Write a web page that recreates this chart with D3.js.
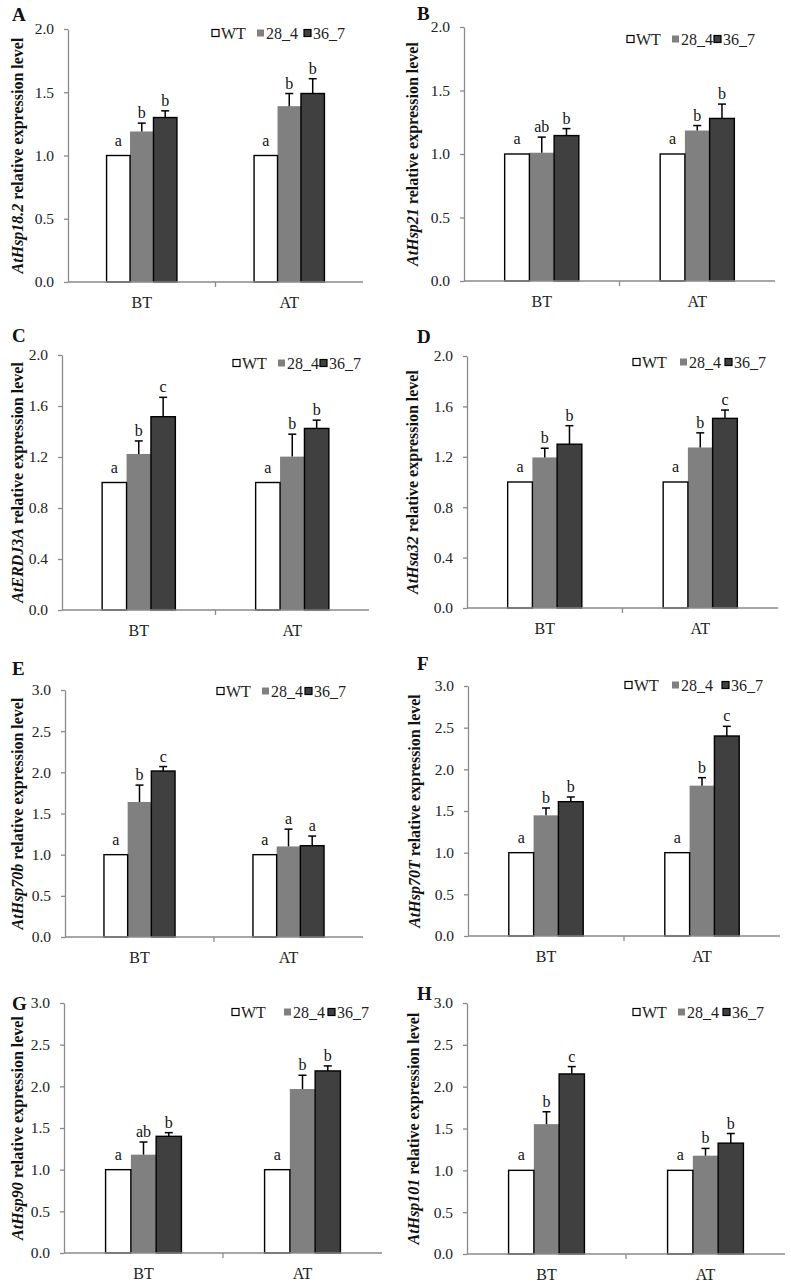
<!DOCTYPE html>
<html><head><meta charset="utf-8">
<script src="https://cdn.jsdelivr.net/npm/d3@7"></script>
<style>body{margin:0;background:#fff} svg{display:block}</style>
</head><body><svg id="c" width="791" height="1285"></svg>
<script>
// ---------- DATA ----------
const panelLetters = ["A","B","C","D","E","F","G","H"];
const genes = ["AtHsp18.2","AtHsp21","AtERDJ3A","AtHsa32","AtHsp70b","AtHsp70T","AtHsp90","AtHsp101"];
const categories = ["BT","AT"];
const seriesNames = ["WT","28_4","36_7"];
const yMax  = [2.0, 2.0, 2.0, 2.0, 3.0, 3.0, 3.0, 3.0];
const yStep = [0.5, 0.5, 0.4, 0.4, 0.5, 0.5, 0.5, 0.5];
// means per panel: [BT, AT]
const meanWT  = [[1,1],[1,1],[1,1],[1,1],[1,1],[1,1],[1,1],[1,1]];
const mean284 = [[1.19,1.39],[1.01,1.185],[1.224,1.203],[1.195,1.274],[1.64,1.10],[1.448,1.804],[1.18,1.968],[1.552,1.175]];
const mean367 = [[1.30,1.49],[1.145,1.28],[1.516,1.424],[1.30,1.505],[2.016,1.109],[1.612,2.40],[1.40,2.185],[2.152,1.325]];
const errWT   = [[0,0],[0,0],[0,0],[0,0],[0,0],[0,0],[0,0],[0,0]];
const err284  = [[0.066,0.10],[0.123,0.039],[0.102,0.176],[0.073,0.116],[0.205,0.21],[0.088,0.096],[0.152,0.165],[0.148,0.087]];
const err367  = [[0.053,0.117],[0.055,0.113],[0.152,0.065],[0.147,0.066],[0.054,0.117],[0.056,0.116],[0.044,0.06],[0.088,0.115]];
// significance letters per panel: [BT[WT,28_4,36_7], AT[...]]
const sigLetters = [
  [["a","b","b"],["a","b","b"]],
  [["a","ab","b"],["a","b","b"]],
  [["a","b","c"],["a","b","b"]],
  [["a","b","b"],["a","b","c"]],
  [["a","b","c"],["a","a","a"]],
  [["a","b","b"],["a","b","c"]],
  [["a","ab","b"],["a","b","b"]],
  [["a","b","c"],["a","b","b"]]
];

// ---------- LAYOUT ----------
const layout = [
  {x0:68, x1:363, yTop:29,  yBot:282,  lab:[12,21],   ylab:17,  leg:[212,257,304], legY:33},
  {x0:464,x1:775, yTop:27,  yBot:281,  lab:[417,20],  ylab:412, leg:[627,672,714], legY:39},
  {x0:62, x1:369, yTop:355, yBot:610,  lab:[12,342],  ylab:17,  leg:[233,278,320], legY:363},
  {x0:467,x1:778, yTop:356, yBot:608,  lab:[417,343], ylab:412, leg:[633,680,725], legY:362},
  {x0:65, x1:363, yTop:690, yBot:937,  lab:[12,675],  ylab:17,  leg:[217,262,305], legY:691},
  {x0:468,x1:780, yTop:686, yBot:936,  lab:[417,670], ylab:414, leg:[625,672,722], legY:685},
  {x0:64, x1:382, yTop:1003,yBot:1253, lab:[12,1010], ylab:17,  leg:[232,284,328], legY:1012},
  {x0:467,x1:785, yTop:1003,yBot:1254, lab:[417,1000],ylab:413, leg:[633,678,723], legY:1012}
];
const FONT = "'Liberation Serif','Times New Roman',serif";
const AXIS = "#8a8a8a";
const fills = {"WT":"#ffffff","28_4":"#808080","36_7":"#404040"};
const strokes = {"WT":"#000","28_4":"none","36_7":"#000"};

const svg = d3.select("#c");

layout.forEach((L, i) => {
  const g = svg.append("g");
  const y = d3.scaleLinear().domain([0, yMax[i]]).range([L.yBot, L.yTop]);
  const x = d3.scaleBand().domain(categories).range([L.x0, L.x1]);
  const bw = x.bandwidth();
  const frac = 0.477;
  const xs = d3.scaleBand().domain(seriesNames).range([bw*(1-frac)/2, bw*(1-frac)/2 + bw*frac]);
  const sw = xs.bandwidth();

  const recs = [];
  categories.forEach((c, ci) => {
    const m = [meanWT[i][ci], mean284[i][ci], mean367[i][ci]];
    const e = [errWT[i][ci], err284[i][ci], err367[i][ci]];
    seriesNames.forEach((s, si) => recs.push({c, s, v:m[si], e:e[si], lt:sigLetters[i][ci][si]}));
  });
  const order = ["28_4","WT","36_7"];
  const sorted = recs.slice().sort((a,b)=>order.indexOf(a.s)-order.indexOf(b.s));

  g.selectAll("rect.bar").data(sorted).join("rect")
    .attr("x", d => x(d.c) + xs(d.s))
    .attr("y", d => y(d.v))
    .attr("width", sw)
    .attr("height", d => y(0) - y(d.v))
    .attr("fill", d => fills[d.s])
    .attr("stroke", d => strokes[d.s])
    .attr("stroke-width", 1.4);

  // error bars
  const eb = recs.filter(d => d.e > 0);
  g.selectAll("line.stem").data(eb).join("line")
    .attr("x1", d => x(d.c)+xs(d.s)+sw/2).attr("x2", d => x(d.c)+xs(d.s)+sw/2)
    .attr("y1", d => y(d.v)).attr("y2", d => y(d.v+d.e))
    .attr("stroke","#000").attr("stroke-width",1.5);
  g.selectAll("line.cap").data(eb).join("line")
    .attr("x1", d => x(d.c)+xs(d.s)+sw/2-4).attr("x2", d => x(d.c)+xs(d.s)+sw/2+4)
    .attr("y1", d => y(d.v+d.e)).attr("y2", d => y(d.v+d.e))
    .attr("stroke","#000").attr("stroke-width",1.5);

  // letters
  g.selectAll("text.sig").data(recs).join("text")
    .attr("x", d => x(d.c)+xs(d.s)+sw/2)
    .attr("y", d => d.e > 0 ? y(d.v+d.e) - 5 : y(d.v) - 10)
    .attr("text-anchor","middle")
    .attr("font-family",FONT).attr("font-size",16).attr("fill","#111")
    .text(d => d.lt);

  // y axis
  const tv = d3.range(0, yMax[i] + 1e-6, yStep[i]);
  const ya = g.append("g").attr("transform",`translate(${L.x0},0)`)
    .call(d3.axisLeft(y).tickValues(tv).tickFormat(d3.format(".1f")).tickSize(4).tickSizeOuter(0).tickPadding(10));
  ya.select(".domain").attr("stroke",AXIS).attr("stroke-width",1.3);
  ya.selectAll(".tick line").attr("stroke",AXIS).attr("stroke-width",1.3);
  ya.selectAll(".tick text").attr("font-family",FONT).attr("font-size",15.5).attr("fill","#222");

  // x axis
  g.append("line").attr("x1",L.x0).attr("x2",L.x1).attr("y1",y(0)).attr("y2",y(0))
    .attr("stroke",AXIS).attr("stroke-width",1.3);
  g.append("line").attr("x1",x(categories[1])).attr("x2",x(categories[1]))
    .attr("y1",y(0)).attr("y2",y(0)+5).attr("stroke",AXIS).attr("stroke-width",1.3);
  g.selectAll("text.cat").data(categories).join("text")
    .attr("x", c => x(c)+bw/2).attr("y", y(0)+26)
    .attr("text-anchor","middle").attr("font-family",FONT).attr("font-size",16).attr("fill","#222")
    .text(c => c);

  // y label
  const yl = g.append("text")
    .attr("transform",`translate(${L.ylab},${(L.yTop+L.yBot)/2}) rotate(-90)`)
    .attr("text-anchor","middle").attr("dominant-baseline","central")
    .attr("font-family",FONT).attr("font-size",16).attr("font-weight","bold").attr("fill","#111");
  yl.append("tspan").attr("font-style","italic").text(genes[i]);
  yl.append("tspan").text(" relative expression level");

  // panel letter
  g.append("text").attr("x",L.lab[0]).attr("y",L.lab[1])
    .attr("font-family",FONT).attr("font-size",19).attr("font-weight","bold").attr("fill","#111")
    .text(panelLetters[i]);

  // legend
  seriesNames.forEach((s, si) => {
    const lx = L.leg[si];
    g.append("rect").attr("x",lx).attr("y",L.legY-3.5).attr("width",7).attr("height",7)
      .attr("fill",fills[s]).attr("stroke", s==="28_4" ? "none" : "#000").attr("stroke-width",1.2);
    g.append("text").attr("x",lx+9).attr("y",L.legY).attr("dominant-baseline","central")
      .attr("font-family",FONT).attr("font-size",16).attr("fill","#222").text(s);
  });
});
</script></body></html>
